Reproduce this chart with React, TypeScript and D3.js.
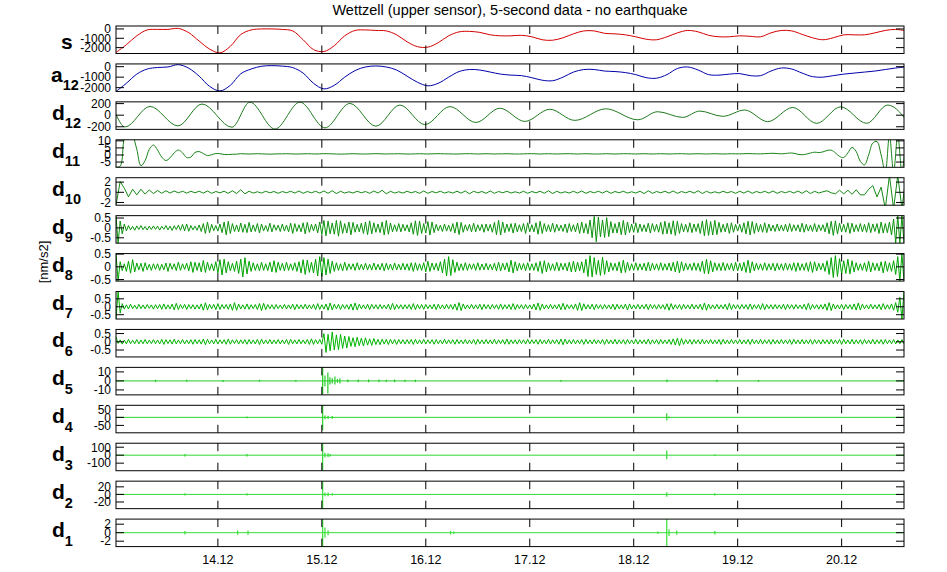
import React from "react";
import * as d3 from "d3";

// record: 5-second samples, time in days of December
const tStart = 13.02;
const tEnd = 20.6;
const dayTicks = [14, 15, 16, 17, 18, 19, 20];
const dayLabels = ["14.12", "15.12", "16.12", "17.12", "18.12", "19.12", "20.12"];

const chartTitle = "Wettzell (upper sensor), 5-second data - no earthquake";
const yTitle = "[nm/s2]";

// signal and approximation, one value every 0.1 day
const sStep = 0.1;
const sValues = [
  -2525, -1680, -736, -105, -50, -50, 55, -400, -1300, -2150,
  -2560, -1860, -600, -105, 0, 0, -50, -210, -1157, -2210,
  -2420, -1790, -736, -160, -105, -160, -210, -630, -1380, -1900,
  -1950, -1470, -736, -315, -260, -370, -630, -736, -736, -680,
  -840, -1157, -1210, -946, -525, -210, -210, -470, -525, -630,
  -840, -1100, -1157, -840, -420, -160, -315, -680, -840, -840,
  -736, -790, -840, -420, -160, -210, -580, -946, -1157, -946,
  -630, -630, -630, -420, -160, -50, -210,
];
const a12Values = [
  -2359, -1583, -710, -225, -80, -30, 192, -150, -904, -1874,
  -2310, -1777, -680, -225, 40, 95, 50, -90, -613, -1583,
  -2117, -1777, -1001, -370, -30, 66, -30, -322, -904, -1486,
  -1825, -1583, -1001, -467, -273, -322, -516, -710, -807, -855,
  -1050, -1292, -1340, -1001, -516, -273, -273, -419, -467, -564,
  -758, -1050, -1098, -758, -176, -30, -322, -758, -807, -710,
  -661, -855, -855, -419, -128, -225, -613, -952, -1001, -855,
  -710, -613, -516, -419, -273, -128, -30,
];

// d12: turning points [day, value]
const d12Extrema: [number, number][] = [
  [13.02, 11], [13.107, -203], [13.347, 151], [13.616, -185], [13.847, 193],
  [14.135, -208], [14.308, 225], [14.549, -240], [14.789, 225], [15.03, -218],
  [15.27, 203], [15.52, -190], [15.751, 175], [15.991, -163], [16.232, 148],
  [16.482, -126], [16.712, 120], [16.953, -108], [17.193, 102], [17.433, -90],
  [17.732, 110], [18.039, -80], [18.231, 60], [18.472, -39], [18.635, 71],
  [18.857, -20], [19.068, 89], [19.289, -112], [19.53, 133], [19.76, -141],
  [19.991, 144], [20.241, -141], [20.443, 175], [20.674, -220],
];

// d11, d10: one value every 0.04 day
const slowStep = 0.04;
const d11Values = [
  -8.5, -8, 12, 18, 14, 4, -7.6, -4, 4, 7,
  3.5, -1.5, -3.9, -2, 1.5, 3.5, 1.5, -1.8, -1.5, 1.8,
  2.4, 1, -0.4, 0.2, 1, 0.9, 0.4, 0.3, 0.5, 0.6,
  0.9, 0.8, 0.7, 0.8, 0.9, 0.8, 0.7, 0.6, 0.7, 0.8,
  0.8, 0.9, 0.8, 0.7, 0.7, 0.8, 0.9, 0.8, 0.7, 0.8,
  0.9, 0.9, 0.8, 0.7, 0.6, 0.7, 0.8, 0.9, 0.8, 0.7,
  0.7, 0.8, 0.9, 0.9, 0.8, 0.7, 0.8, 0.8, 0.9, 0.8,
  0.7, 0.7, 0.8, 0.9, 0.8, 0.7, 0.8, 0.9, 0.9, 0.8,
  0.8, 0.7, 0.7, 0.8, 0.9, 0.9, 0.8, 0.7, 0.8, 0.9,
  0.8, 0.7, 0.8, 0.8, 0.9, 0.8, 0.7, 0.7, 0.8, 0.9,
  0.9, 0.8, 0.7, 0.8, 0.9, 0.8, 0.7, 0.8, 0.9, 0.9,
  0.8, 0.7, 0.8, 0.9, 0.8, 0.7, 0.7, 0.8, 0.9, 0.8,
  0.7, 0.8, 0.9, 0.9, 0.8, 0.7, 0.8, 0.9, 0.8, 0.7,
  0.8, 0.9, 0.8, 0.7, 0.8, 0.9, 0.9, 0.8, 0.7, 0.8,
  0.9, 0.8, 0.7, 0.8, 0.9, 0.8, 0.7, 0.8, 0.9, 0.8,
  0.8, 0.9, 1.0, 0.9, 0.8, 0.8, 0.9, 1.1, 1.2, 1.0,
  0.8, 1.0, 1.4, 1.2, 0.5, 0.2, 0.6, 1.4, 2.0, 1.7,
  2.2, 3.2, 3.4, 1.5, -1.0, -1.8, 1.5, 5.3, 2.5, -4.5,
  -7, 0, 8.5, 9.5, 0, -12, 14, -12, 14, -12, 14,
];
const d10Values = [
  -2.5, 2.1, 0.8, -0.9, 0.6, -0.5, 0.6, -0.35, 0.45, -0.25,
  0.35, -0.2, 0.3, -0.15, 0.25, -0.1, 0.2, -0.15, 0.2, -0.1,
  0.2, -0.15, 0.25, -0.2, 0.15, -0.1, 0.2, -0.2, 0.3, -0.25,
  0.5, -0.3, 0.2, -0.15, 0.1, -0.15, 0.2, -0.1, 0.15, -0.2,
  0.15, -0.1, 0.2, -0.15, 0.25, -0.2, 0.15, -0.1, 0.2, -0.15,
  0.25, -0.2, 0.3, -0.25, 0.2, -0.15, 0.1, -0.15, 0.2, -0.1,
  0.15, -0.2, 0.25, -0.15, 0.4, -0.3, 0.2, -0.15, 0.1, -0.15,
  0.2, -0.1, 0.15, -0.2, 0.25, -0.2, 0.15, -0.1, 0.2, -0.15,
  0.1, -0.15, 0.2, -0.15, 0.25, -0.3, 0.2, -0.1, 0.15, -0.2,
  0.25, -0.2, 0.15, -0.1, 0.2, -0.15, 0.1, -0.15, 0.2, -0.2,
  0.15, -0.1, 0.2, -0.2, 0.3, -0.25, 0.2, -0.15, 0.1, -0.15,
  0.2, -0.15, 0.25, -0.2, 0.15, -0.1, 0.2, -0.15, 0.25, -0.2,
  0.15, -0.1, 0.2, -0.15, 0.1, -0.15, 0.2, -0.25, 0.3, -0.2,
  0.15, -0.1, 0.2, -0.15, 0.25, -0.2, 0.15, -0.1, 0.2, -0.15,
  0.3, -0.25, 0.2, -0.15, 0.1, -0.15, 0.2, -0.1, 0.15, -0.2,
  0.2, -0.15, 0.25, -0.2, 0.15, -0.1, 0.2, -0.15, 0.25, -0.2,
  0.15, -0.1, 0.2, -0.15, 0.25, -0.2, 0.3, -0.25, 0.2, -0.15,
  0.1, 0.3, -0.1, -0.3, 0.4, -0.3, 0.4, -0.4, 0.5, -0.5,
  -0.5, 0.6, 1.3, -0.9, 1.0, -3.2, 3.3, -3.2, 3.3, -3.2, 3.3,
];

// d9..d6: one value every 0.02 day, in 0.01 nm/s2
const fastStep = 0.02;
const d9Values = [
  60, -77, 35, -30, 20, -15, 12, -10, 8, -12, 10, -8, 12, -9, 7, -11, 9, -8, 10, -7,
  9, -11, 8, -7, 12, -10, 9, -13, 11, -8, 14, -12, 18, -15, 20, -17, 12, -10, 9, -12,
  15, -18, 22, -28, 30, -25, 18, -14, 12, -16, 20, -24, 30, -35, 33, -28, 22, -18, 15, -20,
  25, -22, 18, -24, 28, -20, 15, -18, 22, -26, 20, -15, 12, -18, 24, -20, 16, -12, 14, -18,
  20, -16, 14, -20, 24, -28, 22, -18, 16, -20, 26, -30, 28, -22, 18, -15, 20, -25, 30, -34,
  38, -40, 35, -30, 25, -32, 38, -42, 36, -28, 22, -26, 30, -35, 28, -22, 18, -20, 24, -28,
  30, -34, 36, -30, 26, -22, 20, -24, 30, -36, 38, -32, 25, -20, 16, -18, 22, -20, 18, -15,
  16, -20, 26, -32, 36, -38, 34, -28, 22, -26, 32, -36, 30, -24, 18, -15, 14, -18, 20, -16,
  14, -18, 22, -26, 30, -34, 28, -22, 16, -14, 18, -20, 24, -20, 16, -14, 18, -22, 20, -16,
  18, -22, 28, -34, 38, -36, 30, -24, 20, -18, 22, -26, 24, -20, 16, -18, 22, -28, 26, -20,
  16, -20, 26, -32, 34, -28, 22, -18, 16, -20, 24, -22, 18, -15, 14, -18, 20, -24, 22, -18,
  16, -20, 24, -28, 30, -26, 22, -30, 40, -50, 58, -70, 55, -45, 40, -48, 52, -44, 32, -26,
  22, -26, 30, -34, 38, -36, 30, -24, 20, -22, 26, -24, 20, -18, 16, -20, 24, -26, 22, -18,
  18, -22, 28, -32, 34, -30, 26, -32, 36, -38, 34, -28, 22, -20, 18, -22, 26, -24, 20, -18,
  22, -28, 34, -40, 42, -38, 32, -36, 38, -34, 28, -22, 18, -20, 24, -28, 26, -22, 18, -16,
  18, -22, 26, -30, 34, -36, 32, -28, 24, -20, 18, -22, 26, -24, 20, -16, 14, -18, 20, -16,
  14, -16, 18, -20, 22, -18, 16, -14, 16, -20, 24, -22, 18, -16, 14, -18, 22, -20, 16, -14,
  16, -20, 26, -30, 34, -38, 36, -30, 24, -20, 18, -22, 26, -28, 24, -20, 16, -18, 22, -20,
  18, -22, 26, -24, 20, -18, 22, -28, 30, -26, 22, -24, 30, -36, 45, -77, 62, -77, 62, -77,
];
const d8Values = [
  52, -56, 20, -15, 12, -18, 22, -25, 28, -20, 15, -12, 14, -18, 16, -12, 10, -14, 12, -10,
  12, -14, 10, -12, 15, -18, 14, -10, 12, -15, 18, -14, 12, -10, 14, -16, 20, -22, 18, -14,
  16, -20, 25, -22, 18, -14, 12, -16, 20, -24, 28, -32, 30, -24, 20, -16, 14, -18, 22, -26,
  30, -40, 36, -28, 22, -18, 16, -14, 12, -16, 18, -14, 12, -15, 18, -20, 24, -22, 18, -14,
  14, -16, 18, -14, 12, -14, 16, -18, 20, -24, 28, -30, 26, -22, 18, -24, 30, -36, 40, -38,
  36, -32, 30, -26, 22, -18, 16, -14, 12, -16, 18, -14, 12, -10, 12, -14, 16, -12, 10, -12,
  14, -12, 10, -13, 15, -12, 10, -12, 14, -16, 14, -12, 11, -13, 15, -12, 10, -12, 14, -12,
  12, -14, 16, -18, 16, -14, 12, -14, 16, -20, 22, -18, 15, -12, 14, -16, 20, -24, 30, -36,
  40, -34, 28, -22, 18, -15, 12, -14, 16, -14, 12, -10, 12, -14, 16, -13, 11, -12, 14, -12,
  10, -12, 14, -16, 18, -16, 14, -12, 16, -20, 26, -24, 20, -16, 14, -12, 13, -15, 16, -14,
  12, -14, 16, -18, 22, -26, 24, -20, 16, -14, 12, -15, 18, -16, 14, -12, 14, -16, 18, -20,
  22, -20, 18, -16, 20, -24, 30, -38, 44, -40, 36, -30, 26, -34, 38, -30, 24, -20, 16, -14,
  14, -16, 20, -24, 26, -22, 18, -15, 12, -14, 16, -14, 12, -12, 14, -16, 18, -16, 14, -12,
  12, -14, 16, -14, 12, -13, 15, -16, 18, -20, 22, -24, 20, -16, 14, -12, 12, -14, 16, -14,
  14, -18, 22, -26, 30, -28, 24, -20, 16, -14, 13, -15, 17, -15, 13, -12, 14, -16, 18, -16,
  14, -16, 18, -22, 26, -24, 20, -16, 14, -12, 12, -14, 16, -14, 12, -12, 14, -16, 14, -12,
  12, -14, 15, -13, 12, -14, 16, -18, 16, -14, 12, -14, 16, -18, 20, -22, 20, -16, 14, -12,
  14, -18, 24, -30, 36, -42, 44, -38, 32, -28, 24, -26, 30, -28, 24, -20, 16, -14, 12, -14,
  16, -18, 22, -20, 16, -14, 14, -16, 20, -24, 22, -18, 16, -18, 24, -30, 40, -56, 52, -56,
];
const d7Values = [
  -77, 96, -40, 20, -15, 12, -14, 16, -12, 10, -14, 15, -12, 11, -13, 14, -10, 12, -15, 13,
  -12, 14, -16, 18, -15, 12, -14, 17, -20, 22, -18, 14, -12, 15, -17, 14, -12, 13, -15, 12,
  -14, 18, -22, 25, -20, 16, -13, 15, -18, 20, -17, 14, -12, 14, -16, 18, -22, 26, -22, 17,
  -14, 12, -15, 18, -16, 13, -12, 14, -17, 20, -24, 22, -18, 14, -12, 13, -15, 14, -12, 11,
  -13, 15, -14, 12, -13, 16, -18, 15, -13, 12, -14, 16, -14, 12, -13, 15, -18, 20, -16, 13,
  -15, 18, -22, 24, -20, 16, -13, 15, -17, 14, -12, 13, -16, 18, -21, 24, -20, 16, -13, 12,
  -14, 16, -18, 15, -12, 13, -15, 14, -12, 11, -13, 16, -19, 22, -18, 14, -12, 13, -15, 13,
  -12, 14, -17, 20, -18, 15, -13, 14, -16, 15, -12, 12, -14, 16, -18, 16, -13, 12, -14, 15,
  -13, 14, -16, 18, -22, 26, -24, 18, -14, 12, -13, 15, -14, 12, -13, 16, -18, 15, -12, 13,
  -15, 14, -12, 13, -16, 18, -16, 13, -12, 14, -17, 20, -18, 14, -12, 13, -15, 14, -12, 12,
  -14, 17, -20, 24, -22, 17, -14, 12, -13, 15, -14, 12, -13, 16, -19, 22, -18, 14, -12, 13,
  -15, 18, -22, 26, -24, 19, -15, 13, -14, 16, -18, 15, -12, 13, -15, 14, -12, 12, -14, 16,
  -18, 16, -13, 12, -14, 17, -20, 18, -14, 12, -13, 15, -14, 12, -13, 16, -18, 15, -12, 13,
  -15, 14, -12, 13, -16, 19, -22, 20, -16, 13, -12, 14, -17, 15, -12, 12, -14, 16, -14, 12,
  -13, 16, -20, 24, -22, 17, -14, 12, -13, 15, -14, 12, -13, 16, -19, 22, -18, 14, -12, 13,
  -15, 14, -12, 13, -16, 18, -16, 13, -12, 14, -17, 20, -18, 14, -12, 13, -15, 14, -12, 12,
  -14, 16, -18, 15, -12, 13, -15, 14, -12, 11, -13, 16, -19, 22, -18, 14, -12, 13, -15, 13,
  -14, 18, -22, 26, -24, 18, -14, 12, -13, 15, -17, 14, -12, 13, -16, 18, -21, 24, -20, 16,
  -13, 12, -14, 16, -14, 12, -13, 15, -18, 20, -16, 13, -15, 18, -22, 26, -35, 60, -77, 96,
];
const d6Values = [
  30, -10, 12, -14, 11, -13, 15, -12, 10, -12, 14, -13, 11, -12, 14, -12, 10, -11, 13, -12,
  11, -13, 15, -16, 13, -11, 12, -14, 16, -13, 11, -12, 14, -13, 11, -12, 13, -15, 14, -12,
  12, -14, 17, -18, 15, -12, 11, -13, 15, -14, 12, -11, 13, -15, 17, -15, 12, -11, 13, -14,
  12, -11, 13, -15, 14, -12, 11, -13, 15, -17, 16, -13, 11, -12, 14, -13, 11, -12, 14, -13,
  11, -12, 14, -16, 15, -12, 11, -13, 14, -12, 11, -12, 14, -16, 18, -16, 13, -12, 14, -15,
  50, -65, 45, -55, 60, -50, 42, -48, 45, -40, 35, -38, 32, -28, 25, -30, 28, -24, 22, -26,
  24, -20, 18, -22, 20, -17, 15, -18, 16, -14, 15, -17, 15, -13, 14, -16, 14, -12, 13, -14,
  13, -12, 14, -16, 15, -13, 12, -13, 15, -14, 12, -11, 13, -15, 14, -12, 11, -13, 15, -13,
  12, -11, 13, -15, 14, -12, 11, -12, 14, -13, 11, -12, 14, -16, 15, -12, 11, -13, 14, -12,
  11, -13, 15, -14, 12, -11, 13, -15, 17, -15, 12, -11, 12, -14, 13, -11, 12, -14, 15, -13,
  12, -11, 13, -15, 14, -12, 11, -13, 15, -14, 12, -11, 13, -15, 17, -18, 16, -13, 12, -13,
  14, -13, 11, -12, 14, -16, 15, -12, 11, -13, 14, -12, 11, -12, 14, -16, 15, -12, 11, -13,
  15, -14, 12, -11, 13, -15, 14, -12, 11, -13, 15, -14, 12, -11, 12, -14, 16, -15, 12, -11,
  13, -15, 14, -12, 11, -12, 14, -16, 18, -20, 22, -24, 20, -16, 13, -12, 14, -15, 13, -11,
  12, -14, 15, -13, 11, -12, 14, -13, 11, -12, 14, -16, 15, -12, 11, -13, 14, -12, 11, -12,
  14, -13, 11, -12, 14, -16, 15, -12, 11, -13, 15, -14, 12, -11, 13, -15, 14, -12, 11, -13,
  14, -12, 11, -12, 14, -16, 15, -12, 11, -13, 14, -13, 11, -12, 14, -15, 13, -11, 12, -14,
  13, -11, 12, -14, 15, -13, 11, -12, 14, -16, 15, -12, 11, -13, 15, -14, 12, -11, 13, -15,
  14, -12, 11, -13, 15, -14, 12, -11, 13, -15, 14, -12, 11, -12, 14, -13, 11, -12, 14, -13,
];

// d5..d1: quiet trace with short bursts, [day, max, min]
const d5Spikes: [number, number, number][] = [
  [13.4, 1.2, -1.2], [13.7, 1.2, -1], [14.05, 1, -1.2], [14.4, 1.2, -1], [14.75, 1, -1],
  [15.008, 15, -15.5], [15.03, 6, -6], [15.058, 9.4, -14], [15.078, 4, -4], [15.1, 3, -3],
  [15.126, 5, -4], [15.15, 2, -2], [15.174, 3, -3], [15.25, 1.5, -1.5], [15.35, 1.5, -1.5],
  [15.45, 1.5, -1.5], [15.55, 1.5, -1.5], [15.62, 1.2, -1.2], [15.7, 1.5, -1.5], [15.8, 1.2, -1.2],
  [15.9, 1.2, -1.2], [17.3, 1, -1], [18.32, 1.5, -1.5], [18.8, 1.2, -1.2], [19.2, 1, -1],
];
const d4Spikes: [number, number, number][] = [
  [14.28, 5, -5], [15.008, 75, -80], [15.03, 12, -12], [15.06, 10, -10], [15.1, 8, -8],
  [18.318, 25, -20], [18.34, 6, -6],
];
const d3Spikes: [number, number, number][] = [
  [13.683, 15, -15], [14.28, 15, -15], [15.008, 150, -195], [15.03, 30, -30], [15.06, 25, -25],
  [15.08, 15, -15], [18.318, 60, -50], [18.78, 10, -10],
];
const d2Spikes: [number, number, number][] = [
  [13.683, 3, -3], [14.28, 3, -3], [15.008, 35, -37.6], [15.03, 5, -5], [15.06, 5, -5],
  [15.1, 3, -3], [18.318, 6, -6], [18.78, 3, -3],
];
const d1Spikes: [number, number, number][] = [
  [13.683, 0.4, -0.4], [14.19, 0.5, -0.5], [14.29, 0.5, -0.5], [15.008, 3.2, -3.27],
  [15.03, 1.2, -1.2], [15.06, 0.6, -0.6], [16.239, 0.4, -0.4], [16.27, 0.3, -0.3],
  [18.232, 0.3, -0.3], [18.318, 3.2, -3.27], [18.34, 0.8, -0.8], [18.414, 0.5, -0.5],
  [18.78, 0.4, -0.4],
];

type Pt = [number, number];
const series = (values: number[], step: number, unit = 1): Pt[] =>
  values.map((v, i) => [tStart + i * step, v * unit]);

type Panel = {
  base: string;
  sub?: string;
  color: string;
  domain: [number, number];
  ticks: number[];
  points?: Pt[];
  curve?: d3.CurveFactory;
  spikes?: [number, number, number][];
};

const panels: Panel[] = [
  { base: "s", color: "#d40000", domain: [-2630, 316], ticks: [-2000, -1000, 0], points: series(sValues, sStep), curve: d3.curveCatmullRom },
  { base: "a", sub: "12", color: "#0000aa", domain: [-2360, 260], ticks: [-2000, -1000, 0], points: series(a12Values, sStep), curve: d3.curveCatmullRom },
  { base: "d", sub: "12", color: "#1f7a1f", domain: [-245, 230], ticks: [-200, 0, 200], points: d12Extrema, curve: d3.curveMonotoneX },
  { base: "d", sub: "11", color: "#1a821a", domain: [-8.7, 10.75], ticks: [-5, 0, 5, 10], points: series(d11Values, slowStep), curve: d3.curveCatmullRom },
  { base: "d", sub: "10", color: "#158a15", domain: [-2.54, 2.86], ticks: [-2, 0, 2], points: series(d10Values, slowStep) },
  { base: "d", sub: "9", color: "#0c930c", domain: [-0.77, 0.62], ticks: [-0.5, 0, 0.5], points: series(d9Values, fastStep, 0.01) },
  { base: "d", sub: "8", color: "#00a400", domain: [-0.56, 0.52], ticks: [-0.5, 0, 0.5], points: series(d8Values, fastStep, 0.01) },
  { base: "d", sub: "7", color: "#00ae00", domain: [-0.77, 0.96], ticks: [-0.5, 0, 0.5], points: series(d7Values, fastStep, 0.01) },
  { base: "d", sub: "6", color: "#00b400", domain: [-0.92, 0.75], ticks: [-0.5, 0, 0.5], points: series(d6Values, fastStep, 0.01) },
  { base: "d", sub: "5", color: "#22cc22", domain: [-15.5, 15], ticks: [-10, 0, 10], spikes: d5Spikes },
  { base: "d", sub: "4", color: "#2ad42a", domain: [-96, 75], ticks: [-50, 0, 50], spikes: d4Spikes },
  { base: "d", sub: "3", color: "#30d830", domain: [-195, 150], ticks: [-100, 0, 100], spikes: d3Spikes },
  { base: "d", sub: "2", color: "#33dc33", domain: [-37.6, 35], ticks: [-20, 0, 20], spikes: d2Spikes },
  { base: "d", sub: "1", color: "#36e036", domain: [-3.27, 3.2], ticks: [-2, 0, 2], spikes: d1Spikes },
];

const width = 947;
const height = 572;
const left = 116;
const right = 904;
const firstTop = 26;
const panelStep = 37.93;
const panelH = 27.5;
const tickLen = 8;
const font = "'Liberation Sans', Arial, Helvetica, sans-serif";

export default function App() {
  const x = d3.scaleLinear().domain([tStart, tEnd]).range([left, right]);
  const lastTop = firstTop + panelStep * (panels.length - 1);

  return (
    <svg
      width={width}
      height={height}
      style={{ position: "absolute", left: 0, top: 0, background: "#fff" }}
      fontFamily={font}
    >
      <rect width={width} height={height} fill="#fff" />
      <text x={(left + right) / 2} y={15} fontSize={14.5} textAnchor="middle">
        {chartTitle}
      </text>
      <text transform={`translate(48, 262) rotate(-90)`} fontSize={13} textAnchor="middle">
        {yTitle}
      </text>

      {panels.map((p, i) => {
        const top = firstTop + panelStep * i;
        const y = d3.scaleLinear().domain(p.domain).range([top + panelH, top]);
        const line = d3
          .line<Pt>()
          .x((d) => x(d[0]))
          .y((d) => y(d[1]))
          .curve(p.curve ?? d3.curveLinear);
        const clipId = `clip-${i}`;
        return (
          <g key={i}>
            <clipPath id={clipId}>
              <rect x={left} y={top} width={right - left} height={panelH} />
            </clipPath>
            <g clipPath={`url(#${clipId})`}>
              {p.points && (
                <path d={line(p.points) ?? ""} fill="none" stroke={p.color} strokeWidth={1} />
              )}
              {p.spikes && (
                <>
                  <line x1={left} x2={right} y1={y(0)} y2={y(0)} stroke={p.color} strokeWidth={1} />
                  {p.spikes.map((s, k) => (
                    <line
                      key={k}
                      x1={x(s[0])}
                      x2={x(s[0])}
                      y1={y(s[1])}
                      y2={y(s[2])}
                      stroke={p.color}
                      strokeWidth={1.2}
                    />
                  ))}
                </>
              )}
            </g>
            <rect
              x={left}
              y={top}
              width={right - left}
              height={panelH}
              fill="none"
              stroke="#000"
              strokeWidth={1}
            />
            {dayTicks.map((t) => (
              <g key={t} stroke="#000" strokeWidth={1}>
                <line x1={x(t)} x2={x(t)} y1={top} y2={top + tickLen} />
                <line x1={x(t)} x2={x(t)} y1={top + panelH - tickLen} y2={top + panelH} />
              </g>
            ))}
            {p.ticks.map((v) => (
              <g key={v}>
                <line x1={left} x2={left + tickLen} y1={y(v)} y2={y(v)} stroke="#000" />
                <line x1={right - tickLen} x2={right} y1={y(v)} y2={y(v)} stroke="#000" />
                <text x={left - 5} y={y(v) + 4.3} fontSize={12} textAnchor="end">
                  {String(v)}
                </text>
              </g>
            ))}
            {p.sub ? (
              <text x={p.base === "a" ? 51 : 52} y={top + 18} fontSize={21} fontWeight="bold">
                {p.base}
                <tspan fontSize={14.5} dy={8.5}>
                  {p.sub}
                </tspan>
              </text>
            ) : (
              <text x={61} y={top + 22.5} fontSize={21} fontWeight="bold">
                {p.base}
              </text>
            )}
          </g>
        );
      })}

      {dayTicks.map((t, k) => (
        <text key={t} x={x(t)} y={lastTop + panelH + 17} fontSize={12.5} textAnchor="middle">
          {dayLabels[k]}
        </text>
      ))}
    </svg>
  );
}
